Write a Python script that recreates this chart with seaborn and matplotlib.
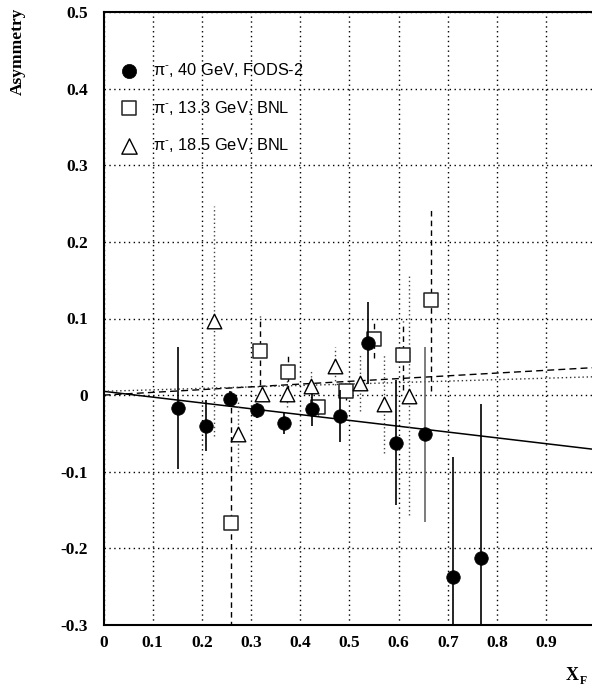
import numpy as np
import pandas as pd
import matplotlib
matplotlib.use("Agg")
import matplotlib.pyplot as plt
from matplotlib.ticker import MultipleLocator
import seaborn as sns

# ---------------- data ----------------
fods_x = [0.151, 0.208, 0.257, 0.311, 0.367, 0.424, 0.481, 0.538, 0.594, 0.653, 0.711, 0.767]
fods_y = [-0.017, -0.040, -0.005, -0.020, -0.037, -0.018, -0.027, 0.068, -0.062, -0.051, -0.238, -0.212]
fods_err = [0.080, 0.033, 0.010, 0.010, 0.014, 0.022, 0.034, 0.054, 0.082, 0.114, 0.157, 0.201]

bnl13_x = [0.260, 0.319, 0.376, 0.435, 0.492, 0.550, 0.608, 0.666]
bnl13_y = [-0.167, 0.058, 0.030, -0.016, 0.006, 0.073, 0.052, 0.124]
bnl13_err = [0.173, 0.045, 0.025, 0.010, 0.012, 0.024, 0.045, 0.119]

bnl18_x = [0.224, 0.273, 0.323, 0.372, 0.422, 0.471, 0.521, 0.570, 0.620]
bnl18_y = [0.097, -0.051, 0.002, 0.002, 0.012, 0.038, 0.016, -0.012, -0.001]
bnl18_err = [0.150, 0.042, 0.010, 0.018, 0.021, 0.025, 0.037, 0.064, 0.156]

fit_x = [0.0, 1.0]
fit_fods_y = [0.005, -0.071]
fit_bnl13_y = [0.000, 0.036]
fit_bnl18_y = [0.005, 0.024]

labels = ["\u03c0$^{\\text{-}}$, 40 GeV, FODS-2",
          "\u03c0$^{\\text{-}}$, 13.3 GeV, BNL",
          "\u03c0$^{\\text{-}}$, 18.5 GeV, BNL"]

x_ticks = [0, 0.1, 0.2, 0.3, 0.4, 0.5, 0.6, 0.7, 0.8, 0.9, 1.0]
x_ticklabels = ["0", "0.1", "0.2", "0.3", "0.4", "0.5", "0.6", "0.7", "0.8", "0.9", "1"]
y_ticks = [-0.3, -0.2, -0.1, 0, 0.1, 0.2, 0.3, 0.4, 0.5]
y_ticklabels = ["-0.3", "-0.2", "-0.1", "0", "0.1", "0.2", "0.3", "0.4", "0.5"]

# ---------------- style ----------------
sns.set_theme(style="white")
plt.rcParams["font.family"] = ["Liberation Sans", "DejaVu Sans"]
plt.rcParams["mathtext.fontset"] = "custom"
plt.rcParams["mathtext.rm"] = "Liberation Sans"
plt.rcParams["mathtext.it"] = "Liberation Sans"
plt.rcParams["mathtext.bf"] = "Liberation Sans:bold"

W, H = 592, 686
fig = plt.figure(figsize=(W / 100, H / 100), dpi=100)
fig.patch.set_facecolor("white")
ax = fig.add_axes([103.5 / W, 61 / H, 492 / W, 613 / H])
ax.set_facecolor("white")

# fit lines
fits = pd.DataFrame({"x": fit_x * 3,
                     "y": fit_fods_y + fit_bnl13_y + fit_bnl18_y,
                     "set": ["a"] * 2 + ["b"] * 2 + ["c"] * 2})
sns.lineplot(data=fits[fits.set == "a"], x="x", y="y", ax=ax, color="black",
             lw=1.1, legend=False, zorder=2)
sns.lineplot(data=fits[fits.set == "b"], x="x", y="y", ax=ax, color="black",
             lw=1.0, linestyle=(0, (5, 3)), legend=False, zorder=2)
sns.lineplot(data=fits[fits.set == "c"], x="x", y="y", ax=ax, color="#333333",
             lw=1.0, linestyle=(0, (1, 2)), legend=False, zorder=2)

# error bars
eb = ax.errorbar(bnl18_x, bnl18_y, yerr=bnl18_err, fmt="none", ecolor="#444444",
                 elinewidth=1.0, capsize=0, zorder=3)
eb[2][0].set_linestyle((0, (1, 2)))
eb = ax.errorbar(bnl13_x, bnl13_y, yerr=bnl13_err, fmt="none", ecolor="black",
                 elinewidth=1.0, capsize=0, zorder=3)
eb[2][0].set_linestyle((0, (4, 3)))
eb = ax.errorbar(fods_x, fods_y, yerr=fods_err, fmt="none", ecolor="black",
                 elinewidth=1.2, capsize=0, zorder=5)
bar_colors = ["black"] * len(fods_x)
bar_colors[9] = "#666666"
eb[2][0].set_color(bar_colors)

# markers
sns.scatterplot(x=fods_x, y=fods_y, ax=ax, marker="o", s=95, color="black",
                edgecolor="black", linewidth=0.5, label=labels[0], zorder=7)
sns.scatterplot(x=bnl13_x, y=bnl13_y, ax=ax, marker="s", s=95, facecolor="white",
                edgecolor="#222222", linewidth=1.1, label=labels[1], zorder=4)
sns.scatterplot(x=bnl18_x, y=bnl18_y, ax=ax, marker="^", s=110, facecolor="white",
                edgecolor="black", linewidth=1.0, label=labels[2], zorder=6)

# axes
ax.set_xlim(0, 1.0)
ax.set_ylim(-0.3, 0.5)
ax.set_xticks(x_ticks)
ax.set_xticklabels(x_ticklabels)
ax.set_yticks(y_ticks)
ax.set_yticklabels(y_ticklabels)
ax.xaxis.set_minor_locator(MultipleLocator(0.02))
ax.yaxis.set_minor_locator(MultipleLocator(0.02))
ax.tick_params(which="both", direction="in", top=False, right=False, color="black")
ax.tick_params(which="major", length=6, width=1.0)
ax.tick_params(which="minor", length=4, width=0.9)
ax.tick_params(axis="y", pad=11)
ax.tick_params(axis="x", pad=7)
for lab in ax.get_xticklabels() + ax.get_yticklabels():
    lab.set_fontfamily("Liberation Serif")
    lab.set_fontweight("bold")
    lab.set_fontsize(12.5)
    lab.set_color("black")

ax.grid(True, which="major", color="black", linestyle=(0, (1, 2.5)), linewidth=1.0)
for side in ["left", "bottom", "top"]:
    ax.spines[side].set_visible(True)
    ax.spines[side].set_color("black")
    ax.spines[side].set_linewidth(1.5)
ax.spines["right"].set_visible(False)
ax.set_xlabel("")
ax.set_ylabel("")

leg = ax.legend(loc="upper left", bbox_to_anchor=(0.012, 0.931), frameon=False,
                fontsize=11.8, handletextpad=0.68, labelspacing=1.2,
                borderaxespad=0, markerscale=1.05, handlelength=1.6)
for t in leg.get_texts():
    t.set_color("black")

fig.text(18 / W, 1 - 8 / H, "Asymmetry", rotation=90, ha="center", va="top",
         family="Liberation Serif", weight="bold", fontsize=12.5, color="black")
fig.text(566 / W, 1 - 680 / H, "X", ha="left", va="baseline",
         family="Liberation Serif", weight="bold", fontsize=13, color="black")
fig.text(580 / W, 1 - 684 / H, "F", ha="left", va="baseline",
         family="Liberation Serif", weight="bold", fontsize=8.5, color="black")

fig.savefig("out.png", dpi=100)
